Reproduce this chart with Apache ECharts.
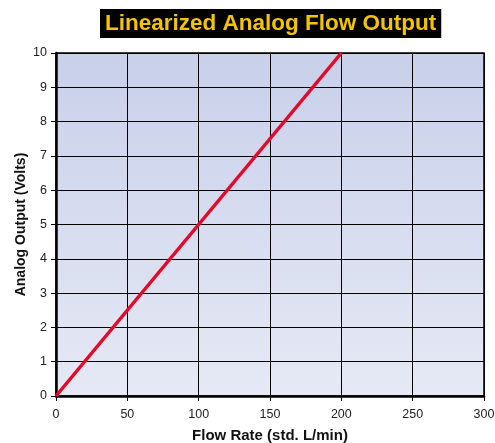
<!DOCTYPE html>
<html>
<head>
<meta charset="utf-8">
<script src="https://cdn.jsdelivr.net/npm/echarts@6/dist/echarts.min.js"></script>
<style>html,body{margin:0;padding:0;background:#fff}#c{width:495px;height:443px}</style>
</head>
<body>
<div id="c"></div>
<script>
const flowRate = [0, 200];
const outputVolts = [0, 10];
const xTicks = [0, 50, 100, 150, 200, 250, 300];
const yTicks = [0, 1, 2, 3, 4, 5, 6, 7, 8, 9, 10];

const chart = echarts.init(document.getElementById('c'));
const font = 'Arial, "Liberation Sans", Helvetica, sans-serif';
chart.setOption({
  animation: false,
  title: {
    text: 'Linearized Analog Flow Output',
    left: 100,
    top: 9,
    backgroundColor: '#000',
    padding: [3, 5, 3, 5],
    textStyle: { color: '#f5c400', fontSize: 22.5, fontWeight: 'bold', fontFamily: font }
  },
  grid: {
    left: 56, right: 11, top: 53, bottom: 47,
    outerBoundsMode: 'none',
    containLabel: false,
    show: true,
    borderColor: '#000',
    borderWidth: 1.5,
    backgroundColor: new echarts.graphic.LinearGradient(0, 0, 0, 1, [
      { offset: 0, color: '#c8d0ea' },
      { offset: 1, color: '#e6e9f5' }
    ])
  },
  xAxis: {
    type: 'value', min: 0, max: 300, interval: 50,
    name: 'Flow Rate (std. L/min)', nameLocation: 'middle', nameGap: 32,
    nameMoveOverlap: false,
    nameTextStyle: { fontSize: 15, fontWeight: 'bold', color: '#111', fontFamily: font },
    axisLine: { lineStyle: { color: '#000', width: 2.5 } },
    axisTick: { show: true, length: 5, lineStyle: { color: '#000' } },
    axisLabel: { fontSize: 12.5, color: '#222', fontFamily: font, margin: 12 },
    splitLine: { lineStyle: { color: '#000', width: 1 } }
  },
  yAxis: {
    type: 'value', min: 0, max: 10, interval: 1,
    name: 'Analog Output (Volts)', nameLocation: 'middle', nameGap: 28,
    nameMoveOverlap: false,
    nameTextStyle: { fontSize: 14, fontWeight: 'bold', color: '#111', fontFamily: font },
    axisLine: { show: true, lineStyle: { color: '#000', width: 2.5 } },
    axisTick: { show: true, length: 5, lineStyle: { color: '#000' } },
    axisLabel: { fontSize: 12.5, color: '#222', fontFamily: font, margin: 9 },
    splitLine: { lineStyle: { color: '#000', width: 1 } }
  },
  series: [{
    type: 'line',
    data: flowRate.map((x, i) => [x, outputVolts[i]]),
    symbol: 'none',
    lineStyle: { color: '#e4092a', width: 3.5 }
  }]
});
</script>
</body>
</html>
